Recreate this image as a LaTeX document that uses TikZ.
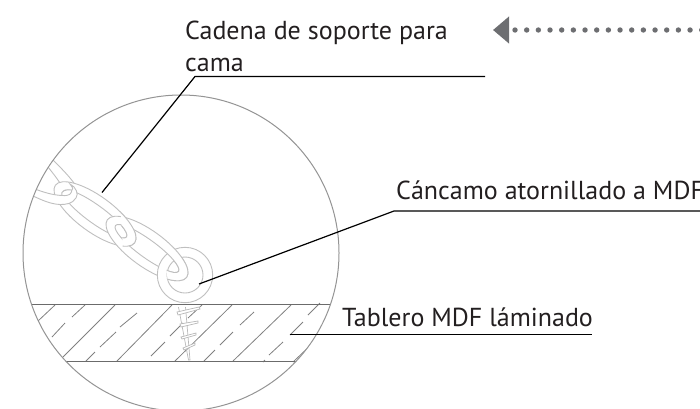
\documentclass[tikz,border=0pt]{standalone}
\usepackage{fontspec}
\setmainfont{PT Sans}
\usetikzlibrary{arrows.meta}
\definecolor{arrowgray}{RGB}{109,110,113}
\definecolor{textgray}{RGB}{35,31,32}
\tikzset{>=latex}
\tikzstyle{leader}=[black,line width=1.2pt]
\tikzstyle{outline}=[black!42,line width=1pt]
\tikzstyle{boardline}=[black!58,line width=1.3pt]
\tikzstyle{hatch}=[black!50,line width=0.8pt]
\tikzstyle{chainline}=[black!25,line width=0.9pt,fill=white,even odd rule]
\tikzstyle{threadline}=[black!28,line width=0.7pt,fill=white]
\tikzstyle{caption}=[anchor=base west,inner sep=0pt,font=\fontsize{26}{28}\selectfont,textgray]
% one link of the chain: centre, then the angle is always the same
\newcommand{\chainlink}[2]{\draw[chainline,shift={(#1,#2)},rotate=-36] (0,0) ellipse (49 and 18) (0,0) ellipse (39 and 9);}
\begin{document}
\begin{tikzpicture}[x=1pt,y=-1pt]
  \useasboundingbox (0,0) rectangle (700,408);

  \begin{scope} % all of the detail stays inside the circle
    \clip (181,253) circle (158);

    % board
    \foreach \xa/\ya/\xb/\yb in {115/305/63/357,172/305/117/361,232/305/175/361,291/305/233/361,55/305/38/321}{
      \draw[hatch] (\xa,\ya) -- (\xb,\yb);
    }
    \foreach \xa/\ya/\xb/\yb in {85/305/72/317,65/323/52/337,137/313/120/327,116/332/100/347,95/352/86/361,
                                 202/305/188/318,183/323/170/336,165/342/151/356,254/312/240/325,233/332/220/345,
                                 215/350/204/361,320/303/308/315,303/322/290/335,283/342/269/355,265/360/263/362,
                                 313/343/293/362,316/343/296/362}{
      \draw[hatch] (\xa,\ya) -- (\xb,\yb);
    }
    \draw[boardline] (0,304.5) -- (350,304.5);
    \draw[boardline,line width=0.9pt] (0,361.3) -- (350,361.3);

    % screw
    \draw[threadline,fill=none] (178.5,307) -- (188.5,360) -- (190,360) -- (185.5,307);
    \draw[threadline] (177,312) -- (199,307) -- (200,309) -- (178,315) -- cycle;
    \draw[threadline] (180,324) -- (198,321) -- (198,323) -- (181,327) -- cycle;
    \draw[threadline] (181,337) -- (196,333) -- (196,335) -- (182,339) -- cycle;
    \draw[threadline] (183,348) -- (195,343) -- (195,345) -- (184,350) -- cycle;

    % chain, upper band of the cut link
    \draw[chainline,fill=none] (53,160) .. controls (62,169) and (68,175) .. (74,183);
    \draw[chainline,fill=none] (48,167) .. controls (52,172) and (56,177) .. (60,183);

    \chainlink{95}{214}
    \chainlink{147}{248.5}
    \begin{scope} % right end of the upper link lies over the lower one
      \clip (120,200) -- (150,200) -- (150,252) -- (123,252) -- cycle;
      \chainlink{95}{214}
    \end{scope}

    \draw[chainline] (185,275) circle (27.7) (185,275) circle (18);
    \begin{scope} % and the lower link over the eye
      \clip (167,252) -- (180,240) -- (200,240) -- (200,285) -- (168,285) -- (166.5,268) -- cycle;
      \chainlink{147}{248.5}
    \end{scope}

    % chain, lower band of the cut link
    \draw[chainline] (35,189) .. controls (43,192) and (52,195) .. (62,195.5) .. controls (60,191) and (66,189) .. (72,190) .. controls (71,194) and (70,196) .. (62,195.5)
      .. controls (70,196) and (71,194) .. (72,190) .. controls (74,188) and (71,186) .. (70,184)
      .. controls (76,187) and (79,194) .. (76,198) .. controls (72,204) and (66,204.5) .. (60,204.5) .. controls (50,204) and (42,200) .. (33,196) -- cycle;
  \end{scope}

  \coordinate (rim) at (181,253);
  \draw[outline] (rim) circle (158);

  % labels
  \node[caption] (chainA) at (185,39) {Cadena de soporte para};
  \node[caption] (chainB) at (185,71) {cama};
  \node[caption] (eye) at (396,199) {Cáncamo atornillado a MDF};
  \node[caption] (board) at (342,326) {Tablero MDF láminado};

  % leaders
  \coordinate (chainEnd) at (485,76.5);
  \coordinate (chainBend) at (195,76.5);
  \coordinate (chainTip) at (102,192.5);
  \draw[leader] (chainTip) -- (chainBend) -- (chainEnd);
  \coordinate (eyeTip) at (199,284);
  \coordinate (eyeBend) at (394,211);
  \coordinate (eyeEnd) at (700,211);
  \draw[leader] (eyeTip) -- (eyeBend) -- (eyeEnd);
  \coordinate (boardTip) at (290,334.8);
  \coordinate (boardEnd) at (592,334.8);
  \draw[leader] (boardTip) -- (boardEnd);

  % arrow going off the page
  \coordinate (arrowTip) at (493,30);
  \coordinate (arrowEnd) at (705,30);
  \draw[{Triangle[length=16,width=26]}-,arrowgray,line width=5.4pt,line cap=round,dash pattern=on 0pt off 11.67pt,dash phase=4.67pt]
    (arrowTip) -- (arrowEnd);
\end{tikzpicture}
\end{document}
